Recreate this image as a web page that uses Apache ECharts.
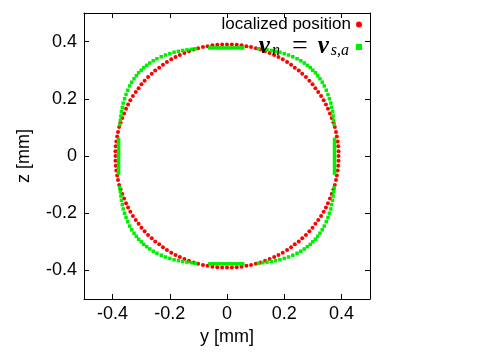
<!DOCTYPE html>
<html>
<head>
<meta charset="utf-8">
<script src="https://cdn.jsdelivr.net/npm/echarts@6/dist/echarts.min.js"></script>
<style>
  html, body { margin: 0; padding: 0; background: #fff; }
  #chart { width: 498px; height: 357px; }
</style>
</head>
<body>
<div id="chart"></div>
<script>
// tick positions, shared by both axes
const tickValues = [-0.4, -0.2, 0, 0.2, 0.4]

// localized position [y, z], one quadrant at a time
const localizedQ1 = [[0.390,0.000],[0.390,0.017],[0.389,0.034],[0.387,0.051],[0.384,0.068],[0.381,0.084],[0.377,0.101],[0.372,0.117],[0.366,0.133],[0.360,0.149],[0.353,0.165],[0.346,0.180],[0.338,0.195],[0.329,0.210],[0.319,0.224],[0.309,0.237],[0.299,0.251],[0.288,0.263],[0.276,0.276],[0.263,0.288],[0.251,0.299],[0.237,0.309],[0.224,0.319],[0.210,0.329],[0.195,0.338],[0.180,0.346],[0.165,0.353],[0.149,0.360],[0.133,0.366],[0.117,0.372],[0.101,0.377],[0.084,0.381],[0.068,0.384],[0.051,0.387],[0.034,0.389],[0.017,0.390]]
const localizedQ2 = [[0.000,0.390],[-0.017,0.390],[-0.034,0.389],[-0.051,0.387],[-0.068,0.384],[-0.084,0.381],[-0.101,0.377],[-0.117,0.372],[-0.133,0.366],[-0.149,0.360],[-0.165,0.353],[-0.180,0.346],[-0.195,0.338],[-0.210,0.329],[-0.224,0.319],[-0.237,0.309],[-0.251,0.299],[-0.263,0.288],[-0.276,0.276],[-0.288,0.263],[-0.299,0.251],[-0.309,0.237],[-0.319,0.224],[-0.329,0.210],[-0.338,0.195],[-0.346,0.180],[-0.353,0.165],[-0.360,0.149],[-0.366,0.133],[-0.372,0.117],[-0.377,0.101],[-0.381,0.084],[-0.384,0.068],[-0.387,0.051],[-0.389,0.034],[-0.390,0.017]]
const localizedQ3 = [[-0.390,0.000],[-0.390,-0.017],[-0.389,-0.034],[-0.387,-0.051],[-0.384,-0.068],[-0.381,-0.084],[-0.377,-0.101],[-0.372,-0.117],[-0.366,-0.133],[-0.360,-0.149],[-0.353,-0.165],[-0.346,-0.180],[-0.338,-0.195],[-0.329,-0.210],[-0.319,-0.224],[-0.309,-0.237],[-0.299,-0.251],[-0.288,-0.263],[-0.276,-0.276],[-0.263,-0.288],[-0.251,-0.299],[-0.237,-0.309],[-0.224,-0.319],[-0.210,-0.329],[-0.195,-0.338],[-0.180,-0.346],[-0.165,-0.353],[-0.149,-0.360],[-0.133,-0.366],[-0.117,-0.372],[-0.101,-0.377],[-0.084,-0.381],[-0.068,-0.384],[-0.051,-0.387],[-0.034,-0.389],[-0.017,-0.390]]
const localizedQ4 = [[0.000,-0.390],[0.017,-0.390],[0.034,-0.389],[0.051,-0.387],[0.068,-0.384],[0.084,-0.381],[0.101,-0.377],[0.117,-0.372],[0.133,-0.366],[0.149,-0.360],[0.165,-0.353],[0.180,-0.346],[0.195,-0.338],[0.210,-0.329],[0.224,-0.319],[0.237,-0.309],[0.251,-0.299],[0.263,-0.288],[0.276,-0.276],[0.288,-0.263],[0.299,-0.251],[0.309,-0.237],[0.319,-0.224],[0.329,-0.210],[0.338,-0.195],[0.346,-0.180],[0.353,-0.165],[0.360,-0.149],[0.366,-0.133],[0.372,-0.117],[0.377,-0.101],[0.381,-0.084],[0.384,-0.068],[0.387,-0.051],[0.389,-0.034],[0.390,-0.017]]

// v_n = v_s,a points [y, z]: flat bits on the axes and the rounded corners
const matchTopBar = [[-0.060,0.378],[-0.050,0.378],[-0.040,0.378],[-0.030,0.378],[-0.020,0.378],[-0.010,0.378],[0.000,0.378],[0.010,0.378],[0.020,0.378],[0.030,0.378],[0.040,0.378],[0.050,0.378],[0.055,0.378]]
const matchBottomBar = [[-0.060,-0.377],[-0.050,-0.377],[-0.040,-0.377],[-0.030,-0.377],[-0.020,-0.377],[-0.010,-0.377],[0.000,-0.377],[0.010,-0.377],[0.020,-0.377],[0.030,-0.377],[0.040,-0.377],[0.050,-0.377],[0.055,-0.377]]
const matchLeftBar = [[-0.379,0.058],[-0.379,0.048],[-0.379,0.038],[-0.379,0.028],[-0.379,0.018],[-0.379,0.008],[-0.379,-0.002],[-0.379,-0.012],[-0.379,-0.022],[-0.379,-0.032],[-0.379,-0.042],[-0.379,-0.052],[-0.379,-0.060]]
const matchRightBar = [[0.376,0.058],[0.376,0.048],[0.376,0.038],[0.376,0.028],[0.376,0.018],[0.376,0.008],[0.376,-0.002],[0.376,-0.012],[0.376,-0.022],[0.376,-0.032],[0.376,-0.042],[0.376,-0.052],[0.376,-0.060]]
const matchQ1 = [[0.110,0.375],[0.125,0.373],[0.140,0.371],[0.155,0.369],[0.170,0.366],[0.185,0.363],[0.200,0.358],[0.215,0.353],[0.230,0.347],[0.245,0.340],[0.258,0.333],[0.270,0.325],[0.281,0.317],[0.291,0.309],[0.300,0.300],[0.309,0.291],[0.317,0.281],[0.325,0.270],[0.333,0.258],[0.340,0.245],[0.347,0.230],[0.353,0.215],[0.358,0.200],[0.363,0.185],[0.366,0.170],[0.369,0.155],[0.371,0.140],[0.373,0.125],[0.375,0.110]]
const matchQ2 = [[-0.110,0.375],[-0.125,0.373],[-0.140,0.371],[-0.155,0.369],[-0.170,0.366],[-0.185,0.363],[-0.200,0.358],[-0.215,0.353],[-0.230,0.347],[-0.245,0.340],[-0.258,0.333],[-0.270,0.325],[-0.281,0.317],[-0.291,0.309],[-0.300,0.300],[-0.309,0.291],[-0.317,0.281],[-0.325,0.270],[-0.333,0.258],[-0.340,0.245],[-0.347,0.230],[-0.353,0.215],[-0.358,0.200],[-0.363,0.185],[-0.366,0.170],[-0.369,0.155],[-0.371,0.140],[-0.373,0.125],[-0.375,0.110]]
const matchQ3 = [[-0.110,-0.375],[-0.125,-0.373],[-0.140,-0.371],[-0.155,-0.369],[-0.170,-0.366],[-0.185,-0.363],[-0.200,-0.358],[-0.215,-0.353],[-0.230,-0.347],[-0.245,-0.340],[-0.258,-0.333],[-0.270,-0.325],[-0.281,-0.317],[-0.291,-0.309],[-0.300,-0.300],[-0.309,-0.291],[-0.317,-0.281],[-0.325,-0.270],[-0.333,-0.258],[-0.340,-0.245],[-0.347,-0.230],[-0.353,-0.215],[-0.358,-0.200],[-0.363,-0.185],[-0.366,-0.170],[-0.369,-0.155],[-0.371,-0.140],[-0.373,-0.125],[-0.375,-0.110]]
const matchQ4 = [[0.110,-0.375],[0.125,-0.373],[0.140,-0.371],[0.155,-0.369],[0.170,-0.366],[0.185,-0.363],[0.200,-0.358],[0.215,-0.353],[0.230,-0.347],[0.245,-0.340],[0.258,-0.333],[0.270,-0.325],[0.281,-0.317],[0.291,-0.309],[0.300,-0.300],[0.309,-0.291],[0.317,-0.281],[0.325,-0.270],[0.333,-0.258],[0.340,-0.245],[0.347,-0.230],[0.353,-0.215],[0.358,-0.200],[0.363,-0.185],[0.366,-0.170],[0.369,-0.155],[0.371,-0.140],[0.373,-0.125],[0.375,-0.110]]

const localized = [].concat(localizedQ1, localizedQ2, localizedQ3, localizedQ4)
const velMatch = [].concat(matchTopBar, matchBottomBar, matchLeftBar, matchRightBar, matchQ1, matchQ2, matchQ3, matchQ4)

const NAME_POS = 'localized position'
const NAME_VEL = 'v_n = v_s,a'

const sansFont = 'Liberation Sans, Arial, Helvetica, sans-serif'
const mathFont = 'Liberation Serif, DejaVu Serif, serif'

const chart = echarts.init(document.getElementById('chart'), null, { renderer: 'canvas' })

const axisCommon = {
  type: 'value',
  min: -0.5,
  max: 0.5,
  splitLine: { show: false },
  axisLine: { show: true, onZero: false, lineStyle: { color: '#000', width: 1 } },
  axisTick: { show: true, inside: true, length: 5, customValues: tickValues, lineStyle: { color: '#000' } }
}

const option = {
  animation: false,
  backgroundColor: '#fff',
  grid: { left: 84, right: 128, top: 13, bottom: 58, outerBoundsMode: 'none' },
  legend: {
    orient: 'vertical',
    right: 136,
    top: 16,
    padding: 0,
    align: 'right',
    itemGap: 0,
    itemWidth: 6,
    itemHeight: 6,
    data: [
      { name: NAME_POS, icon: 'circle' },
      { name: NAME_VEL, icon: 'rect' }
    ],
    formatter: function (name) {
      if (name === NAME_VEL) {
        return '{b|v}{s|n}{eq|=}{b|v}{s|s,a}'
      }
      return '{t|' + name + '}'
    },
    textStyle: {
      color: '#000',
      rich: {
        t: { fontFamily: sansFont, fontSize: 17, color: '#000', lineHeight: 19 },
        b: { fontFamily: mathFont, fontSize: 25, fontWeight: 'bold', fontStyle: 'italic', color: '#000', lineHeight: 24 },
        s: { fontFamily: mathFont, fontSize: 16, fontStyle: 'italic', color: '#000', lineHeight: 24, padding: [8, 2, 0, 2] },
        eq: { fontFamily: mathFont, fontSize: 28, color: '#000', lineHeight: 24, padding: [0, 10, 0, 10] }
      }
    }
  },
  xAxis: [
    Object.assign({}, axisCommon, {
      position: 'bottom',
      name: 'y [mm]',
      nameLocation: 'middle',
      nameGap: 27,
      nameTextStyle: { fontFamily: sansFont, fontSize: 18, color: '#000' },
      axisLabel: { show: true, customValues: tickValues, margin: 6, fontFamily: sansFont, fontSize: 18, color: '#000' }
    }),
    Object.assign({}, axisCommon, {
      position: 'top',
      axisLabel: { show: false }
    })
  ],
  yAxis: [
    Object.assign({}, axisCommon, {
      position: 'left',
      name: 'z [mm]',
      nameLocation: 'middle',
      nameRotate: 90,
      nameGap: 51,
      nameTextStyle: { fontFamily: sansFont, fontSize: 18, color: '#000' },
      axisLabel: { show: true, customValues: tickValues, margin: 7, fontFamily: sansFont, fontSize: 18, color: '#000' }
    }),
    Object.assign({}, axisCommon, {
      position: 'right',
      axisLabel: { show: false }
    })
  ],
  series: [
    {
      name: NAME_POS,
      type: 'scatter',
      xAxisIndex: 0,
      yAxisIndex: 0,
      symbol: 'circle',
      symbolSize: 4,
      itemStyle: { color: '#ff0000', opacity: 1 },
      data: localized
    },
    {
      name: NAME_VEL,
      type: 'scatter',
      xAxisIndex: 0,
      yAxisIndex: 0,
      symbol: 'rect',
      symbolSize: 3.5,
      itemStyle: { color: '#00ee00', opacity: 1 },
      data: velMatch
    }
  ]
}

chart.setOption(option)
</script>
</body>
</html>
